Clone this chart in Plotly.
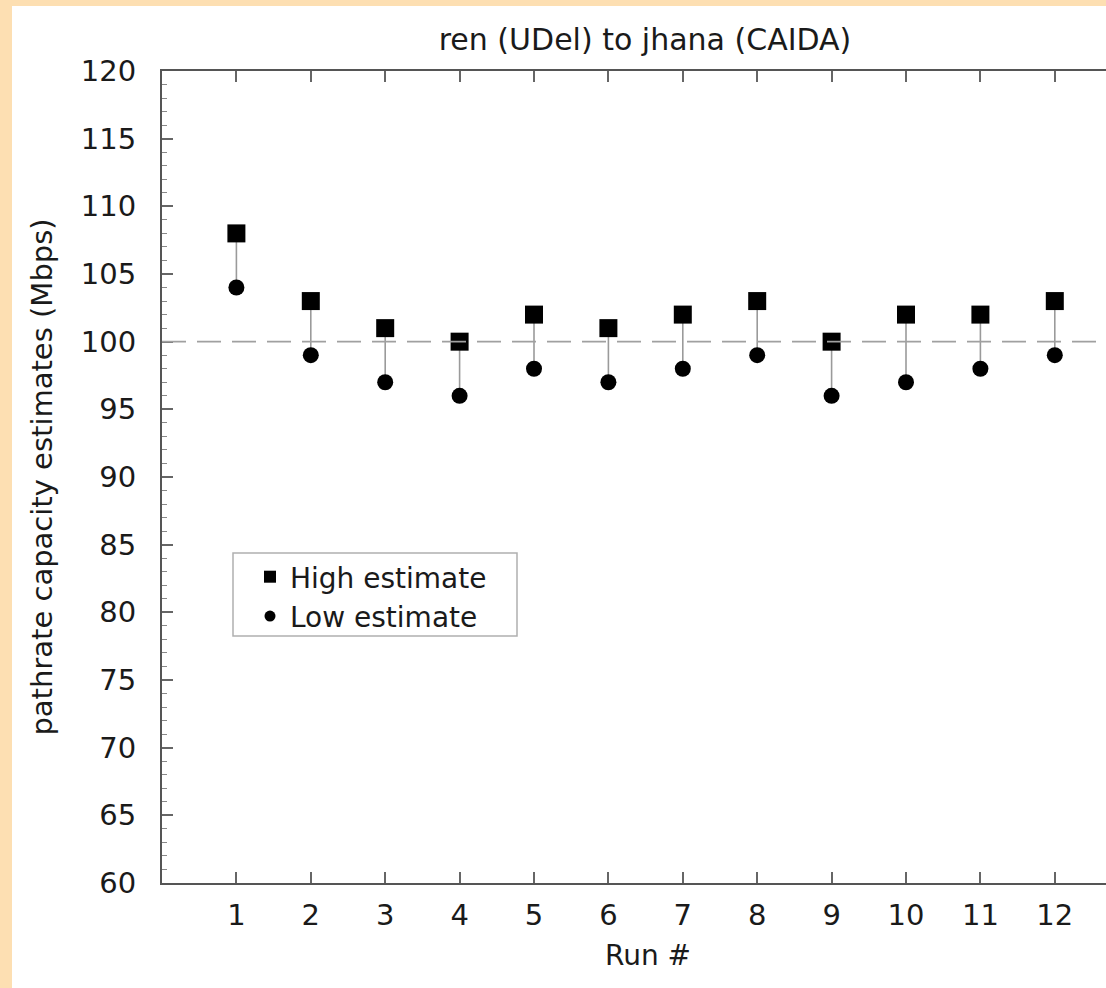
import plotly.graph_objects as go

# ---- data ----
runs = [1, 2, 3, 4, 5, 6, 7, 8, 9, 10, 11, 12]
high_estimate = [108, 103, 101, 100, 102, 101, 102, 103, 100, 102, 102, 103]
low_estimate = [104, 99, 97, 96, 98, 97, 98, 99, 96, 97, 98, 99]
nominal_capacity = 100
y_ticks = list(range(60, 121, 5))
x_ticks = runs

FONT = "DejaVu Sans"
PEACH = "#FDDFB2"
W, H = 1106, 988
L, T, B = 162, 71, 105

fig = go.Figure()

# vertical connectors between high and low
cx, cy = [], []
for r, hi, lo in zip(runs, high_estimate, low_estimate):
    cx += [r, r, None]
    cy += [hi, lo, None]
fig.add_trace(go.Scatter(x=cx, y=cy, mode="lines", line=dict(color="#9a9a9a", width=1.6),
                         showlegend=False, hoverinfo="skip"))

fig.add_trace(go.Scatter(x=runs, y=high_estimate, mode="markers",
                         marker=dict(symbol="square", size=18, color="black"),
                         showlegend=False))
fig.add_trace(go.Scatter(x=runs, y=low_estimate, mode="markers",
                         marker=dict(symbol="circle", size=16, color="black"),
                         showlegend=False))
# legend entries
fig.add_trace(go.Scatter(x=[None], y=[None], mode="markers", name="High estimate",
                         marker=dict(symbol="square", size=12, color="black")))
fig.add_trace(go.Scatter(x=[None], y=[None], mode="markers", name="Low estimate",
                         marker=dict(symbol="circle", size=11, color="black")))

fig.add_hline(y=nominal_capacity, line=dict(color="#a0a0a0", width=1.6, dash="24px,11px"))

pw = W - L
ph = H - T - B
def px_x(p):
    return (p - L) / pw
def px_y(p):
    return (H - B - p) / ph

shapes = [
    # peach border (left and top strips)
    dict(type="rect", xref="paper", yref="paper", x0=px_x(0), x1=px_x(12), y0=px_y(H), y1=px_y(0),
         fillcolor=PEACH, line=dict(width=0), layer="below"),
    dict(type="rect", xref="paper", yref="paper", x0=px_x(0), x1=px_x(W), y0=px_y(6), y1=px_y(0),
         fillcolor=PEACH, line=dict(width=0), layer="below"),
    # legend box
    dict(type="rect", xref="paper", yref="paper", x0=px_x(233), x1=px_x(517), y0=px_y(636), y1=px_y(553),
         fillcolor="rgba(0,0,0,0)", line=dict(color="#b0b0b0", width=1.5)),
]
for s in shapes:
    fig.add_shape(**s)

fig.add_annotation(text="Run #", xref="paper", yref="paper", x=px_x(648), y=px_y(956),
                   showarrow=False, font=dict(family=FONT, size=28, color="#1a1a1a"),
                   xanchor="center", yanchor="middle")

fig.update_layout(
    width=W, height=H,
    margin=dict(l=L, r=0, t=T, b=B, pad=0),
    paper_bgcolor="white", plot_bgcolor="white",
    font=dict(family=FONT, size=29, color="#1a1a1a"),
    title=dict(text="ren (UDel) to jhana (CAIDA)", x=645 / W, xanchor="center",
               y=1 - 39 / H, yanchor="middle", font=dict(family=FONT, size=30, color="#1a1a1a")),
    showlegend=True,
    legend=dict(x=px_x(250), y=px_y(552), xanchor="left", yanchor="top",
                bgcolor="rgba(0,0,0,0)", borderwidth=0, font=dict(family=FONT, size=28, color="#1a1a1a"),
                itemsizing="trace", tracegroupgap=0),
    xaxis=dict(range=[0, (W - L) / 74.4], tickmode="array", tickvals=x_ticks,
               ticks="inside", ticklen=11, tickwidth=1.5, tickcolor="#666",
               showline=True, linecolor="#555", linewidth=2, mirror="ticks",
               showgrid=False, zeroline=False, ticklabelstandoff=5,
               tickfont=dict(family=FONT, size=29, color="#1a1a1a")),
    yaxis=dict(range=[60, 120], tickmode="array", tickvals=y_ticks,
               ticks="inside", ticklen=11, tickwidth=1.5, tickcolor="#666",
               minor=dict(dtick=1, ticks="inside", ticklen=5, tickcolor="#888", tickwidth=1.2),
               showline=True, linecolor="#555", linewidth=2, mirror=False,
               showgrid=False, zeroline=False, ticklabelstandoff=18,
               title=dict(text="pathrate capacity estimates (Mbps)", standoff=20,
                          font=dict(family=FONT, size=29, color="#1a1a1a")),
               tickfont=dict(family=FONT, size=29, color="#1a1a1a")),
)

fig.write_html("out.html", config={"displayModeBar": False},
               post_script="document.body.style.margin='0';")
